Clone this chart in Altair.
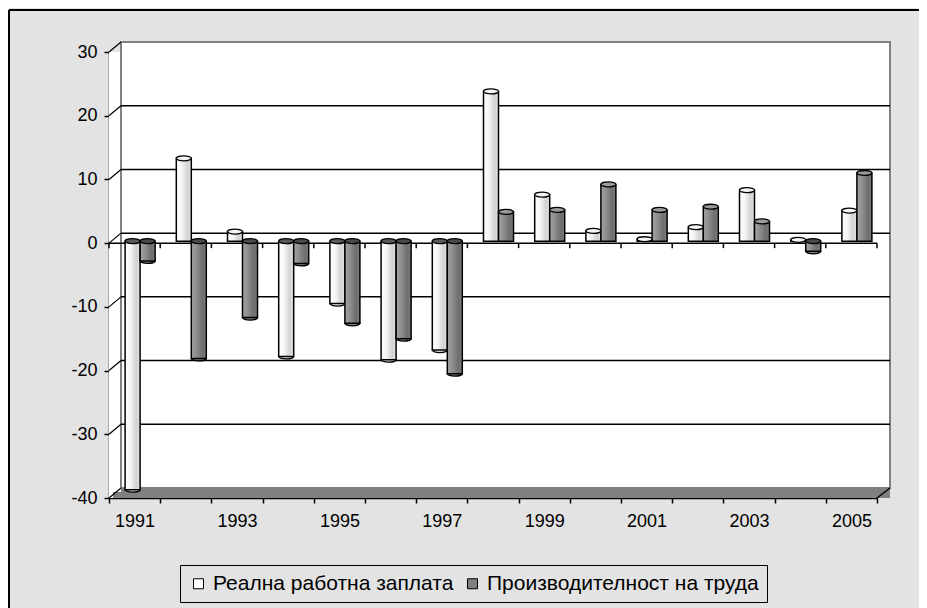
import altair as alt
import pandas as pd

years = [str(y) for y in range(1991, 2006)]
wage = [-39.0, 13.0, 1.5, -18.1, -9.8, -18.6, -17.1, 23.5, 7.3, 1.6, 0.3, 2.2, 8.0, 0.2, 4.8]
prod = [-3.1, -18.4, -12.0, -3.5, -12.9, -15.3, -20.8, 4.6, 4.9, 8.9, 4.9, 5.4, 3.1, -1.6, 10.7]
series = ["Реална работна заплата", "Производителност на труда"]
y_ticks = [-40, -30, -20, -10, 0, 10, 20, 30]
grid_vals = [-30, -20, -10, 0, 10, 20]

FONT = "Liberation Sans"
W, H = 768, 446
DX, DY = 12, 10          # 3D depth offset of the back wall
BX, BY = 5.5, 2          # bar offset (mid depth)
BW = 15                  # bar width

yscale = alt.Scale(domain=[-40, 30], nice=False, zero=False)
xscale = alt.Scale(domain=years, paddingInner=0, paddingOuter=0)

yaxis = alt.Axis(values=y_ticks, title=None, grid=False, tickSize=5, tickWidth=1.5,
                 tickColor="black", domainColor="black", domainWidth=1.5,
                 labelFont=FONT, labelFontSize=18, labelColor="black", labelPadding=7,
                 labelExpr="'' + datum.value")
xaxis = alt.Axis(title=None, grid=False, tickBand="extent", labelAngle=0, tickSize=5,
                 tickWidth=1.5, tickColor="black", domainColor="black", domainWidth=1.5,
                 labelFont=FONT, labelFontSize=18, labelColor="black", labelPadding=9,
                 labelOverlap=False,
                 labelExpr="parseInt(datum.value) % 2 == 1 ? datum.label : ''")

df = pd.DataFrame({"year": years, "wage": wage, "prod": prod})
df["wage_cap"] = [max(v, 0) for v in wage]
df["prod_cap"] = [max(v, 0) for v in prod]
grid_df = pd.DataFrame({"v": grid_vals})
diag_df = pd.DataFrame({"v": y_ticks})
one = pd.DataFrame({"a": [0]})

def lin(stops):
    return alt.LinearGradient(gradient="linear", x1=0, x2=1, y1=0, y2=0,
                              stops=[alt.GradientStop(offset=o, color=c) for o, c in stops])

white_grad = lin([(0, "#ffffff"), (0.35, "#f6f6f6"), (0.75, "#d2d2d2"), (1, "#e4e4e4")])
dark_grad = lin([(0, "#a4a4a4"), (0.35, "#8e8e8e"), (0.75, "#6e6e6e"), (1, "#7c7c7c")])

ELL = "M-1,0 A1,0.33 0 1,0 1,0 A1,0.33 0 1,0 -1,0 Z"
ESIZE = BW * BW

base_one = alt.Chart(one)

# walls
side_wall = base_one.mark_rect(fill="white").encode(
    x=alt.value(0), x2=alt.value(DX), y=alt.value(0), y2=alt.value(H))
back_wall = base_one.mark_rect(fill="white", stroke="#808080", strokeWidth=2).encode(
    x=alt.value(DX), x2=alt.value(W + DX + 1), y=alt.value(-DY), y2=alt.value(H - DY))
floor = base_one.mark_rect(fill="#808080").encode(
    x=alt.value(DX), x2=alt.value(W + DX + 1), y=alt.value(H - DY), y2=alt.value(H))
floor_front = base_one.mark_rect(fill="#808080").encode(
    x=alt.value(4), x2=alt.value(W), y=alt.value(H - DY + 4), y2=alt.value(H))
floor_right = base_one.mark_rule(stroke="black", strokeWidth=1.5).encode(
    x=alt.value(W), x2=alt.value(W + DX + 1), y=alt.value(H), y2=alt.value(H - DY))

grid = alt.Chart(grid_df).mark_rule(stroke="black", strokeWidth=1.5, yOffset=-DY).encode(
    y=alt.Y("v:Q", scale=yscale, axis=yaxis),
    x=alt.value(DX), x2=alt.value(W + DX + 1))
diag = alt.Chart(diag_df).mark_rule(stroke="black", strokeWidth=1.2, y2Offset=-DY).encode(
    y=alt.Y("v:Q", scale=yscale, axis=yaxis), y2="v:Q",
    x=alt.value(0), x2=alt.value(DX))

# front zero line with ticks
zero_line = base_one.mark_rule(stroke="black", strokeWidth=1.5).encode(
    y=alt.datum(0, scale=yscale), x=alt.value(0), x2=alt.value(W))
zero_ticks = alt.Chart(df).mark_rule(stroke="black", strokeWidth=1.5, y2Offset=5).encode(
    x=alt.X("year:N", scale=xscale, axis=xaxis, bandPosition=0),
    y=alt.datum(0, scale=yscale), y2=alt.datum(0))
zero_end = base_one.mark_rule(stroke="black", strokeWidth=1.5, y2Offset=5).encode(
    x=alt.value(W), y=alt.datum(0, scale=yscale), y2=alt.datum(0))

bc = alt.Chart(df)

def bar_layers(field, cap, grad, xo, cap_pos, cap_neg, bottom_fill):
    bottoms = bc.transform_filter(f"datum.{field} < 0").mark_point(
        shape=ELL, size=ESIZE, filled=True, fill=bottom_fill, stroke="black",
        strokeWidth=1.3, opacity=1, xOffset=xo, yOffset=-BY).encode(
        x=alt.X("year:N", scale=xscale, axis=xaxis),
        y=alt.Y(f"{field}:Q", scale=yscale, axis=yaxis))
    bars = bc.mark_bar(width=BW, xOffset=xo, yOffset=-BY, y2Offset=-BY, fill=grad,
                       stroke="black", strokeWidth=1.5).encode(
        x=alt.X("year:N", scale=xscale, axis=xaxis),
        y=alt.Y(f"{field}:Q", scale=yscale, axis=yaxis),
        y2=alt.datum(0))
    caps = bc.mark_point(shape=ELL, size=ESIZE, filled=True, stroke="black",
                         strokeWidth=1.3, opacity=1, xOffset=xo, yOffset=-BY).encode(
        x=alt.X("year:N", scale=xscale, axis=xaxis),
        y=alt.Y(f"{cap}:Q", scale=yscale, axis=yaxis),
        fill=alt.condition(f"datum.{field} < 0", alt.value(cap_neg), alt.value(cap_pos)))
    return [bottoms, bars, caps]

white_layers = bar_layers("wage", "wage_cap", white_grad, BX - BW / 2, "#f4f4f4", "#5a5a5a", "#e8e8e8")
dark_layers = bar_layers("prod", "prod_cap", dark_grad, BX + BW / 2, "#9a9a9a", "#4a4a4a", "#7a7a7a")

# outer frame
frame_left = base_one.mark_rule(stroke="black", strokeWidth=2).encode(
    x=alt.value(-100), y=alt.value(-42), y2=alt.value(H + 120))
frame_top = base_one.mark_rule(stroke="black", strokeWidth=2).encode(
    x=alt.value(-100), x2=alt.value(W + 60), y=alt.value(-42))

legend_df = pd.DataFrame({"s": series})
legend_layer = alt.Chart(legend_df).mark_point(shape="square", size=0, filled=True, opacity=1).encode(
    fill=alt.Fill("s:N", scale=alt.Scale(domain=series, range=["#ffffff", "#808080"]),
                  legend=alt.Legend(title=None, orient="none", legendX=71, legendY=513,
                                    direction="horizontal", strokeColor="black",
                                    padding=8, symbolType="square", symbolSize=100,
                                    symbolStrokeColor="black", symbolStrokeWidth=1,
                                    symbolOpacity=1, labelFont=FONT, labelFontSize=21,
                                    labelColor="black", labelLimit=500, columnPadding=8,
                                    symbolOffset=0, labelOffset=4)))

layers = [side_wall, back_wall, floor, floor_front, floor_right, grid, diag,
          zero_line, zero_ticks, zero_end] + white_layers + dark_layers + \
         [frame_left, frame_top, legend_layer]

chart = alt.layer(*layers).properties(
    width=W, height=H,
    autosize=alt.AutoSizeParams(type="none"),
    padding={"left": 101, "top": 44, "right": 42, "bottom": 110},
    background="#e3e3e3",
).configure_view(stroke=None)

chart.save("out.html", embed_options={"renderer": "svg", "actions": False})
